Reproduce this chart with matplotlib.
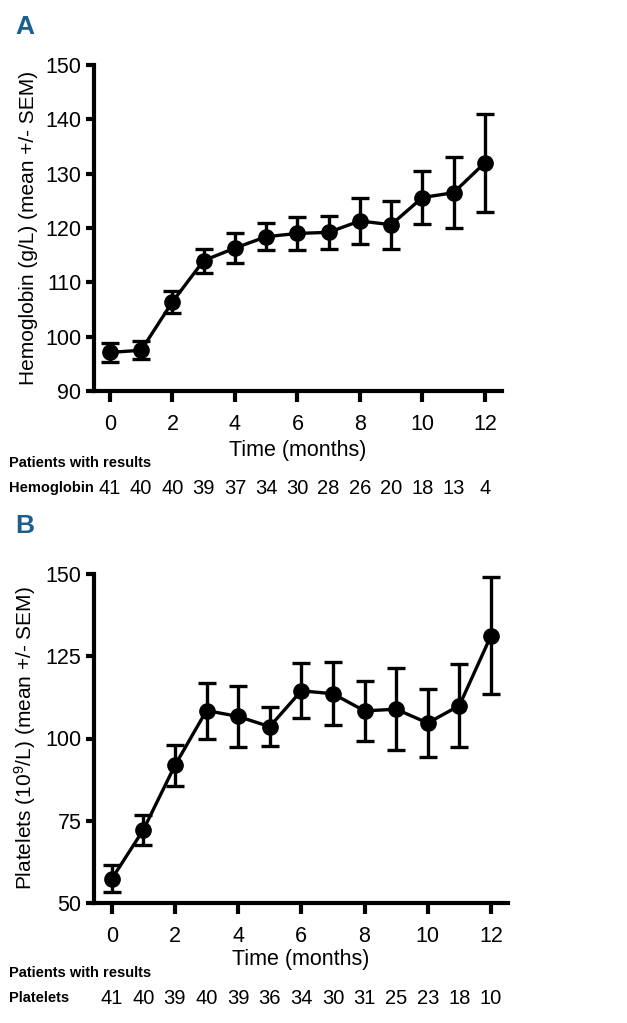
import numpy as np
import matplotlib
matplotlib.use("Agg")
import matplotlib.pyplot as plt
import matplotlib.transforms as mtransforms

# data
months = [0, 1, 2, 3, 4, 5, 6, 7, 8, 9, 10, 11, 12]

hb_mean = [97.1, 97.5, 106.4, 114.0, 116.3, 118.4, 119.0, 119.2, 121.3, 120.6, 125.6, 126.5, 132.0]
hb_sem = [1.7, 1.7, 2.0, 2.2, 2.7, 2.5, 3.0, 3.1, 4.2, 4.4, 4.9, 6.5, 9.0]
hb_n = [41, 40, 40, 39, 37, 34, 30, 28, 26, 20, 18, 13, 4]

plt_mean = [57.3, 72.2, 91.8, 108.5, 106.7, 103.6, 114.5, 113.6, 108.4, 108.9, 104.7, 110.0, 131.2]
plt_sem = [4.1, 4.5, 6.3, 8.5, 9.3, 6.0, 8.4, 9.6, 9.2, 12.4, 10.3, 12.6, 17.8]
plt_n = [41, 40, 39, 40, 39, 36, 34, 30, 31, 25, 23, 18, 10]

W, H = 627, 1023
REG = ['Liberation Sans', 'DejaVu Sans']
NARROW = ['Liberation Sans Narrow', 'Liberation Sans', 'DejaVu Sans']
LETTER_COLOR = '#1c5f8c'

plt.rcParams['font.family'] = NARROW
plt.rcParams['mathtext.fontset'] = 'custom'
plt.rcParams['mathtext.rm'] = 'Liberation Sans'
plt.rcParams['mathtext.it'] = 'Liberation Sans:italic'

fig = plt.figure(figsize=(W / 100, H / 100), dpi=100)


def px_axes(left, top, right, bottom):
    return fig.add_axes([left / W, 1 - bottom / H, (right - left) / W, (bottom - top) / H])


def draw_panel(ax, mean, sem, counts, ylim, yticks, ylabel, xlim, row_name,
               head_y, row_y, letter, letter_y, xpad, xlabelpad):
    ax.errorbar(months, mean, yerr=sem, color='black', lw=2.4, marker='o',
                ms=11, capsize=6.5, capthick=2.4, elinewidth=2.4, clip_on=False,
                zorder=3)
    ax.set_xlim(*xlim)
    ax.set_ylim(*ylim)
    ax.set_yticks(yticks)
    ax.set_xticks(range(0, 13, 2))
    for s in ['top', 'right']:
        ax.spines[s].set_visible(False)
    for s in ['left', 'bottom']:
        ax.spines[s].set_linewidth(3)
    ax.tick_params(axis='both', width=3, labelsize=15.5)
    ax.tick_params(axis='y', length=6, pad=3)
    ax.tick_params(axis='x', length=8, pad=xpad)
    ax.set_ylabel(ylabel, fontsize=15, family=REG)
    ax.yaxis.set_label_coords((38 - 94) / ax.bbox.width, 0.5)
    ax.set_xlabel('Time (months)', fontsize=15.5, labelpad=xlabelpad)

    # patients table under the axis
    trans = mtransforms.blended_transform_factory(ax.transData, fig.transFigure)
    fig.text(9 / W, 1 - head_y / H, 'Patients with results', family=NARROW,
             fontweight='bold', fontsize=10.5, va='center', ha='left')
    fig.text(9 / W, 1 - row_y / H, row_name, family=NARROW,
             fontweight='bold', fontsize=10.5, va='center', ha='left')
    for m, n in zip(months, counts):
        ax.text(m, 1 - row_y / H, str(n), transform=trans, family=NARROW,
                fontsize=14.5, ha='center', va='center')

    fig.text(15 / W, 1 - letter_y / H, letter, family=NARROW, fontweight='bold',
             fontsize=19, color=LETTER_COLOR, va='center', ha='left')


ax1 = px_axes(94, 65, 502, 391)
draw_panel(ax1, hb_mean, hb_sem, hb_n, (90, 150), range(90, 151, 10),
           'Hemoglobin (g/L) (mean +/- SEM)', (-0.51, 12.55), 'Hemoglobin',
           463, 488, 'A', 27, 8.5, 4)

ax2 = px_axes(94, 574, 508, 903)
draw_panel(ax2, plt_mean, plt_sem, plt_n, (50, 150), range(50, 151, 25),
           'Platelets (10$^{9}$/L) (mean +/- SEM)', (-0.56, 12.54), 'Platelets',
           973, 998, 'B', 526, 8.5, 1.5)

fig.savefig('out.png', dpi=100)
